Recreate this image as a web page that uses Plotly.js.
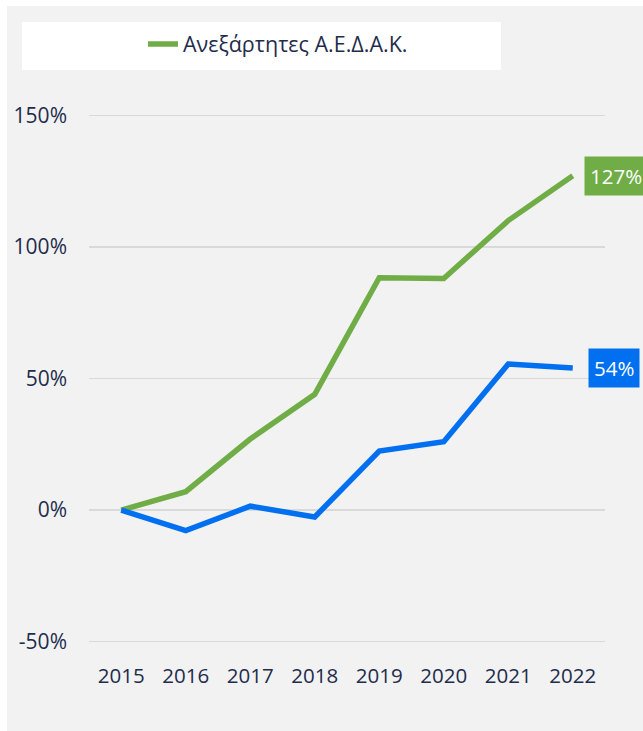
<!DOCTYPE html>
<html>
<head>
<meta charset="utf-8">
<script src="https://cdn.plot.ly/plotly-3.0.1.min.js"></script>
<style>html,body{margin:0;padding:0;background:#fff;}#chart{width:643px;height:731px;}</style>
</head>
<body>
<div id="chart"></div>
<script>
const years = ['2015','2016','2017','2018','2019','2020','2021','2022'];
const independentValues = [0, 7, 27, 44, 88.3, 88, 110, 127];
const otherValues = [0, -7.8, 1.5, -2.6, 22.4, 26, 55.5, 54];
const seriesNames = ['Ανεξάρτητες Α.Ε.Δ.Α.Κ.', ''];
const yTicks = [-50, 0, 50, 100, 150];
const endLabels = ['127%', '54%'];

const GREEN = '#70ad47';
const BLUE = '#0070f0';
const TXT = '#1f2c4c';
const FONT = '"Open Sans", "Noto Sans", sans-serif';
const lastIdx = years.length - 1;

const traces = [
  {
    x: years, y: independentValues, type: 'scatter', mode: 'lines',
    name: seriesNames[0], line: {color: GREEN, width: 5.5}, showlegend: true,
    hoverinfo: 'skip'
  },
  {
    x: years, y: otherValues, type: 'scatter', mode: 'lines',
    name: seriesNames[1], line: {color: BLUE, width: 5.5}, showlegend: false,
    hoverinfo: 'skip'
  }
];

const layout = {
  width: 643, height: 731,
  margin: {l: 89, r: 38, t: 110, b: 84},
  paper_bgcolor: '#ffffff',
  plot_bgcolor: 'rgba(0,0,0,0)',
  font: {family: FONT, size: 20, color: TXT},
  xaxis: {
    type: 'category', range: [-0.5, 7.5], showgrid: false, zeroline: false,
    showline: false, ticks: '', tickfont: {family: FONT, size: 20.5, color: TXT},
    ticklabelstandoff: 14, fixedrange: true
  },
  yaxis: {
    range: [-52, 152], tickvals: yTicks, ticktext: yTicks.map(v => v + '%'),
    showgrid: true, gridcolor: '#d9d9d9', gridwidth: 1.5, zeroline: false,
    showline: false, ticks: '', tickfont: {family: FONT, size: 21, color: TXT},
    ticklabelstandoff: 21, fixedrange: true
  },
  showlegend: true,
  legend: {
    x: 0.1047, y: 1.1229, xanchor: 'left', yanchor: 'middle',
    bgcolor: 'rgba(0,0,0,0)', font: {family: FONT, size: 21.5, color: TXT},
    orientation: 'h'
  },
  shapes: [
    {type: 'rect', xref: 'paper', yref: 'paper', x0: -0.1589, x1: 1.08, y0: -0.17, y1: 1.1937,
     fillcolor: '#f2f2f2', line: {width: 0}, layer: 'below'},
    {type: 'rect', xref: 'paper', yref: 'paper', x0: -0.1298, x1: 0.7984, y0: 1.0745, y1: 1.1639,
     fillcolor: '#ffffff', line: {width: 0}, layer: 'below'}
  ],
  annotations: [
    {x: lastIdx, y: independentValues[lastIdx], xref: 'x', yref: 'y', text: endLabels[0],
     showarrow: false, xanchor: 'left', yanchor: 'middle', xshift: 11,
     bgcolor: GREEN, borderpad: 5, font: {family: FONT, size: 20.5, color: '#ffffff'}},
    {x: lastIdx, y: otherValues[lastIdx], xref: 'x', yref: 'y', text: endLabels[1],
     showarrow: false, xanchor: 'left', yanchor: 'middle', xshift: 15,
     bgcolor: BLUE, borderpad: 5, font: {family: FONT, size: 20.5, color: '#ffffff'}}
  ]
};

Plotly.newPlot('chart', traces, layout, {displayModeBar: false, staticPlot: true});
</script>
</body>
</html>
